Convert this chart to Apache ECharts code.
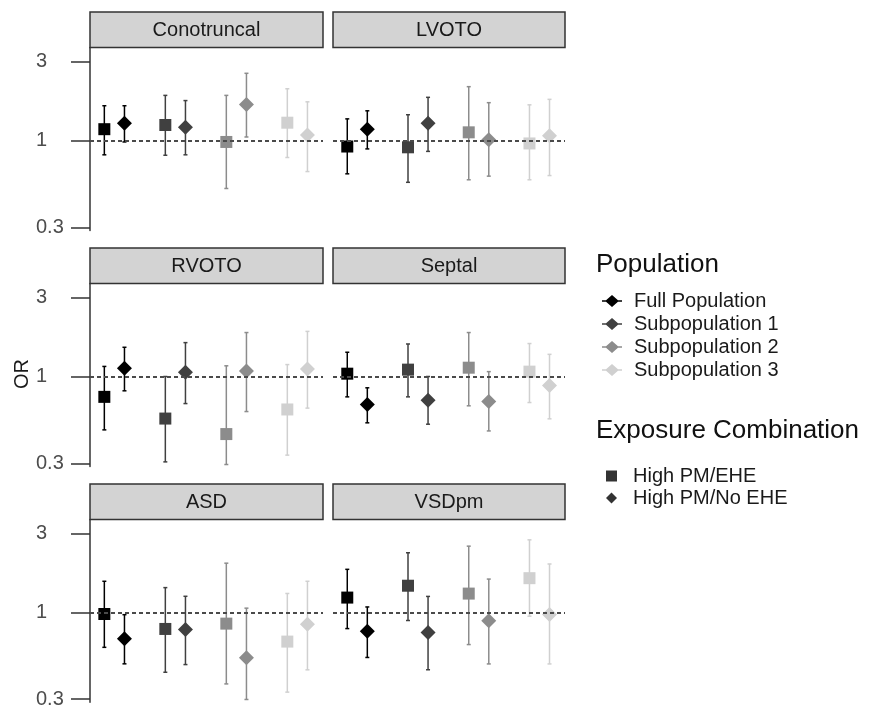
<!DOCTYPE html>
<html><head><meta charset="utf-8">
<script src="https://cdn.jsdelivr.net/npm/echarts@6/dist/echarts.min.js"></script>
<style>html,body{margin:0;padding:0;background:#fff}#c{width:873px;height:709px}</style>
</head><body><div id="c"></div>
<script>
// ---------------- DATA ----------------
const panels = ['Conotruncal', 'LVOTO', 'RVOTO', 'Septal', 'ASD', 'VSDpm'];
const populations = ['Full Population', 'Subpopulation 1', 'Subpopulation 2', 'Subpopulation 3'];
const exposures = ['High PM/EHE', 'High PM/No EHE'];
const yTicks = [0.3, 1, 3];

// rows = panels, columns = populations
const estEHE = [
  [1.17, 1.24, 0.98, 1.28],
  [0.92, 0.91, 1.12, 0.96],
  [0.754, 0.558, 0.45, 0.633],
  [1.04, 1.10, 1.13, 1.07],
  [0.977, 0.794, 0.855, 0.666],
  [1.23, 1.45, 1.30, 1.61]
];
const loEHE = [
  [0.82, 0.815, 0.514, 0.79],
  [0.63, 0.56, 0.58, 0.58],
  [0.477, 0.306, 0.295, 0.336],
  [0.754, 0.754, 0.666, 0.697],
  [0.615, 0.435, 0.37, 0.33],
  [0.80, 0.895, 0.641, 0.95]
];
const hiEHE = [
  [1.62, 1.87, 1.87, 2.05],
  [1.35, 1.43, 2.11, 1.64],
  [1.15, 1.0, 1.16, 1.18],
  [1.40, 1.57, 1.84, 1.58],
  [1.54, 1.41, 1.98, 1.30],
  [1.82, 2.29, 2.51, 2.74]
];
const estNoEHE = [
  [1.27, 1.20, 1.65, 1.08],
  [1.17, 1.27, 1.01, 1.07],
  [1.12, 1.06, 1.08, 1.11],
  [0.678, 0.72, 0.707, 0.883],
  [0.694, 0.787, 0.533, 0.847],
  [0.772, 0.758, 0.891, 0.973]
];
const loNoEHE = [
  [0.98, 0.82, 1.05, 0.65],
  [0.89, 0.86, 0.61, 0.615],
  [0.82, 0.687, 0.615, 0.645],
  [0.526, 0.516, 0.47, 0.556],
  [0.489, 0.484, 0.298, 0.45],
  [0.536, 0.452, 0.49, 0.49]
];
const hiNoEHE = [
  [1.62, 1.74, 2.54, 1.71],
  [1.51, 1.82, 1.69, 1.77],
  [1.50, 1.60, 1.84, 1.87],
  [0.855, 1.0, 1.07, 1.36],
  [0.968, 1.25, 1.06, 1.54],
  [1.08, 1.25, 1.59, 1.96]
];

// ---------------- STYLE / LAYOUT ----------------
const popColors = ['#000000', '#404040', '#8c8c8c', '#d0d0d0'];
const FONT = '"Liberation Sans", Arial, sans-serif';
const colLeft = [90, 333], colWidth = [233, 232];
const rowTop = [47.5, 283.5, 519.5], panelH = 183, stripH = 35.5;
const yMin = 0.287, yMax = 3.633;
const dodge = 0.165;

const chart = echarts.init(document.getElementById('c'), null, { renderer: 'canvas' });

const grids = [], xAxes = [], yAxes = [], series = [], graphics = [];

panels.forEach((name, k) => {
  const r = Math.floor(k / 2), c = k % 2;
  grids.push({ left: colLeft[c], top: rowTop[r], width: colWidth[c], height: panelH });
  xAxes.push({ gridIndex: k, type: 'value', min: 0.6, max: 4.42, show: false });
  const isLeft = c === 0;
  yAxes.push({
    gridIndex: k, type: 'log', logBase: 10, min: yMin, max: yMax,
    axisLine: { show: isLeft, onZero: false, lineStyle: { color: '#333', width: 1.5 } },
    axisTick: { show: isLeft, length: 19, customValues: yTicks, lineStyle: { color: '#333', width: 1.5 } },
    axisLabel: { show: isLeft, customValues: yTicks, align: 'left', margin: 54, fontSize: 20,
      fontFamily: FONT, color: '#4d4d4d', formatter: v => String(v) },
    splitLine: { show: false }, minorTick: { show: false }, minorSplitLine: { show: false }
  });

  // error bars
  const errData = [];
  populations.forEach((p, i) => {
    errData.push([i + 1 - dodge, loEHE[k][i], hiEHE[k][i], i]);
    errData.push([i + 1 + dodge, loNoEHE[k][i], hiNoEHE[k][i], i]);
  });
  series.push({
    type: 'custom', name: '_err' + k, xAxisIndex: k, yAxisIndex: k, z: 2, silent: true,
    data: errData,
    renderItem: (params, api) => {
      const x = api.value(0), lo = api.value(1), hi = api.value(2), pi = api.value(3);
      const t = api.coord([x, hi]), b = api.coord([x, lo]);
      const st = { stroke: popColors[pi], lineWidth: 1.5 };
      const cw = 2;
      return { type: 'group', children: [
        { type: 'line', shape: { x1: t[0], y1: t[1], x2: b[0], y2: b[1] }, style: st },
        { type: 'line', shape: { x1: t[0] - cw, y1: t[1], x2: t[0] + cw, y2: t[1] }, style: st },
        { type: 'line', shape: { x1: b[0] - cw, y1: b[1], x2: b[0] + cw, y2: b[1] }, style: st }
      ] };
    },
    markLine: { silent: true, symbol: 'none', label: { show: false },
      lineStyle: { color: '#4a4a4a', type: [4, 3], width: 1.8 },
      data: [{ yAxis: 1 }] }
  });

  // points
  populations.forEach((p, i) => {
    series.push({
      type: 'scatter', name: p, xAxisIndex: k, yAxisIndex: k, z: 3,
      itemStyle: { color: popColors[i], opacity: 1 },
      emphasis: { disabled: true },
      data: [
        { value: [i + 1 - dodge, estEHE[k][i]], symbol: 'rect', symbolSize: 12 },
        { value: [i + 1 + dodge, estNoEHE[k][i]], symbol: 'diamond', symbolSize: 15 }
      ]
    });
  });

  // strip
  graphics.push({
    type: 'rect', shape: { x: colLeft[c], y: rowTop[r] - stripH, width: colWidth[c], height: stripH },
    style: { fill: '#d3d3d3', stroke: '#333', lineWidth: 1.5 }, z: 10
  });
  graphics.push({
    type: 'text', x: colLeft[c] + colWidth[c] / 2, y: rowTop[r] - stripH / 2 + 1, z: 11,
    style: { text: name, align: 'center', verticalAlign: 'middle', fontSize: 20, fontFamily: FONT, fill: '#1a1a1a' }
  });
});

// legend-only series for exposure shapes
exposures.forEach((e, i) => {
  series.push({ type: 'scatter', name: e, xAxisIndex: 0, yAxisIndex: 0, data: [],
    itemStyle: { color: '#000' }, symbol: i ? 'diamond' : 'rect' });
});

// axis title & legend titles
graphics.push({ type: 'text', x: 22, y: 374, rotation: Math.PI / 2,
  style: { text: 'OR', align: 'center', verticalAlign: 'middle', fontSize: 20, fontFamily: FONT, fill: '#1a1a1a' } });
graphics.push({ type: 'text', x: 596, y: 265,
  style: { text: 'Population', align: 'left', verticalAlign: 'middle', fontSize: 26, fontFamily: FONT, fill: '#111' } });
graphics.push({ type: 'text', x: 596, y: 431,
  style: { text: 'Exposure Combination', align: 'left', verticalAlign: 'middle', fontSize: 26, fontFamily: FONT, fill: '#111' } });

const popIcon = 'path://M0,5.3L4,5.3L10,0L16,5.3L20,5.3L20,6.7L16,6.7L10,12L4,6.7L0,6.7Z';

chart.setOption({
  animation: false,
  backgroundColor: '#fff',
  grid: grids, xAxis: xAxes, yAxis: yAxes, series: series, graphic: graphics,
  legend: [
    { data: populations.map(p => ({ name: p, icon: popIcon })), orient: 'vertical',
      left: 597, top: 286, itemWidth: 20, itemHeight: 13, itemGap: 3, selectedMode: false,
      textStyle: { fontSize: 20, fontFamily: FONT, color: '#1a1a1a', padding: [0, 0, 0, 7] } },
    { data: exposures.map((e, i) => ({ name: e, icon: i ? 'diamond' : 'rect' })), orient: 'vertical',
      left: 601, top: 461, itemWidth: 11, itemHeight: 11, itemGap: 2, selectedMode: false,
      textStyle: { fontSize: 20, fontFamily: FONT, color: '#1a1a1a', padding: [0, 0, 0, 11] } }
  ]
});
</script>
</body></html>
